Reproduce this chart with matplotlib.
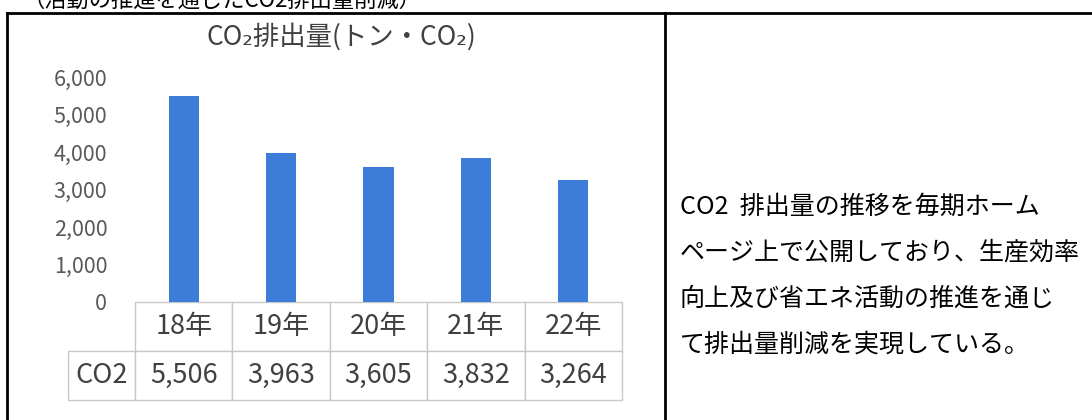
import matplotlib
matplotlib.use("Agg")
import matplotlib.pyplot as plt
from matplotlib.lines import Line2D

plt.rcParams['font.family'] = ['Noto Sans CJK JP', 'DejaVu Sans']

years = ['18年', '19年', '20年', '21年', '22年']
co2 = [5506, 3963, 3605, 3832, 3264]
yticks = [0, 1000, 2000, 3000, 4000, 5000, 6000]

title = 'CO₂排出量(トン・CO₂)'
top_line = '（活動の推進を通じたCO2排出量削減）'
note_lines = [
    'CO2  排出量の推移を毎期ホーム',
    'ページ上で公開しており、生産効率',
    '向上及び省エネ活動の推進を通じ',
    'て排出量削減を実現している。',
]

W, H = 1092, 420
fig = plt.figure(figsize=(W / 100, H / 100), dpi=100)
fig.patch.set_facecolor('white')

# chart area
ax = fig.add_axes([135 / W, 1 - 302 / H, 487 / W, 225 / H])
x = range(len(years))
ax.bar(x, co2, width=0.31, color='#3B7DD8')
ax.set_xlim(-0.5, len(years) - 0.5)
ax.set_ylim(0, 6000)
ax.set_xticks([])
ax.set_yticks(yticks)
ax.set_yticklabels([f'{v:,}' for v in yticks])
ax.tick_params(axis='y', length=0, pad=20, labelsize=15.5, labelcolor='#595959')
for s in ax.spines.values():
    s.set_visible(False)

# data table under the bars: label column 67px, value columns 97.4px
rows = [[''] + years, ['CO2'] + [f'{v:,}' for v in co2]]
tbl = ax.table(cellText=rows, cellLoc='center',
               colWidths=[67] + [97.4] * len(years),
               bbox=[-67 / 487, -98 / 225, 554 / 487, 98 / 225])
tbl.auto_set_font_size(False)
tbl.set_fontsize(19.5)
for (r, c), cell in tbl.get_celld().items():
    cell.set_edgecolor('#c8c8c8')
    cell.set_linewidth(1.0)
    cell.get_text().set_color('#404040')
tbl[0, 0].visible_edges = ''

fig.text(341 / W, 1 - 37 / H, title, ha='center', va='center',
         fontsize=19, color='#404040')

# right-hand note
for i, line in enumerate(note_lines):
    fig.text(680 / W, 1 - (207 + i * 46) / H, line, ha='left', va='center',
             fontsize=18, color='black')

# heading line above the frame, clipped by the top edge as in the source
fig.text(22 / W, 1 - 7 / H, top_line, ha='left', va='baseline',
         fontsize=16, color='black')

# frame
lw = 2
fig.add_artist(Line2D([7 / W, 1], [1 - 13 / H, 1 - 13 / H], color='black', lw=lw))
fig.add_artist(Line2D([7 / W, 7 / W], [0, 1 - 13 / H], color='black', lw=lw))
fig.add_artist(Line2D([665 / W, 665 / W], [0, 1 - 13 / H], color='black', lw=lw))

fig.savefig('out.png', dpi=100)
